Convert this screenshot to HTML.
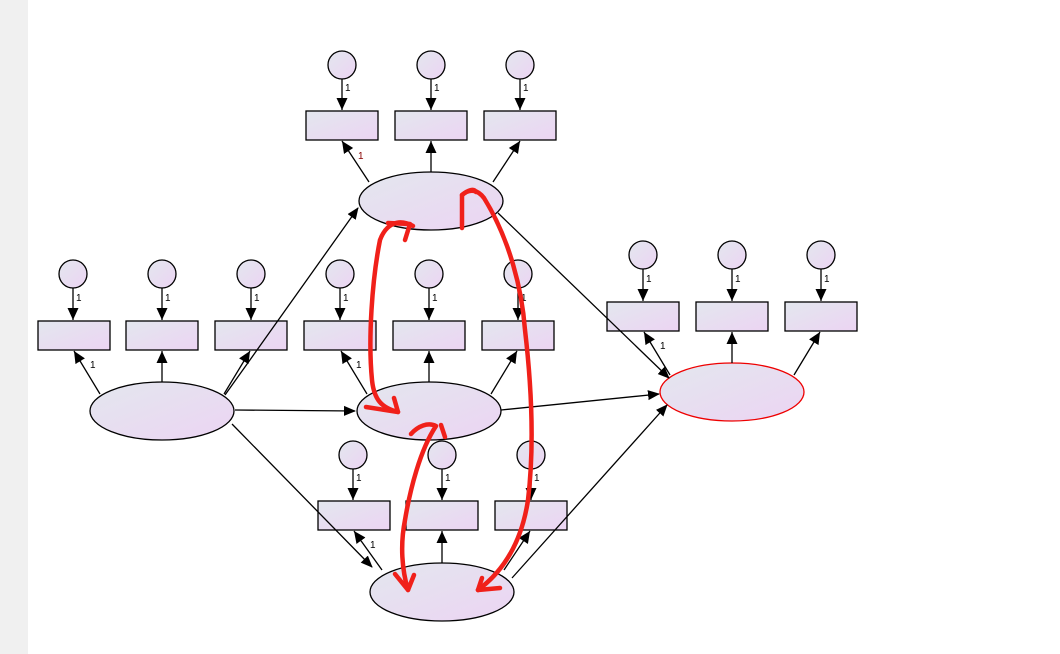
<!DOCTYPE html>
<html><head><style>body{margin:0;background:#fff}svg{display:block}</style></head><body>
<svg width="1060" height="654" viewBox="0 0 1060 654" xmlns="http://www.w3.org/2000/svg" font-family="Liberation Sans, sans-serif">
<defs>
<linearGradient id="g" x1="0" y1="0" x2="1" y2="1"><stop offset="0" stop-color="#e3e7ee"/><stop offset="1" stop-color="#ecd4f3"/></linearGradient>
<marker id="a" markerWidth="12" markerHeight="12" refX="11" refY="6" orient="auto" markerUnits="userSpaceOnUse"><path d="M0,1 L12,6 L0,11 Z" fill="#000"/></marker>
<marker id="as" markerWidth="12" markerHeight="14" refX="12" refY="7" orient="auto-start-reverse" markerUnits="userSpaceOnUse"><path d="M0,1.5 L12,7 L0,12.5 Z" fill="#000"/></marker>
</defs>
<rect x="0" y="0" width="28" height="654" fill="#f0f0f0"/>
<g stroke="#000" stroke-width="1.3" fill="url(#g)">
<circle cx="342" cy="65" r="14"/><circle cx="431" cy="65" r="14"/><circle cx="520" cy="65" r="14"/>
<rect x="306" y="111" width="72" height="29"/><rect x="395" y="111" width="72" height="29"/><rect x="484" y="111" width="72" height="29"/>
<ellipse cx="431" cy="201" rx="72" ry="29"/>
<circle cx="73" cy="274" r="14"/><circle cx="162" cy="274" r="14"/><circle cx="251" cy="274" r="14"/>
<rect x="38" y="321" width="72" height="29"/><rect x="126" y="321" width="72" height="29"/><rect x="215" y="321" width="72" height="29"/>
<ellipse cx="162" cy="411" rx="72" ry="29"/>
<circle cx="340" cy="274" r="14"/><circle cx="429" cy="274" r="14"/><circle cx="518" cy="274" r="14"/>
<rect x="304" y="321" width="72" height="29"/><rect x="393" y="321" width="72" height="29"/><rect x="482" y="321" width="72" height="29"/>
<ellipse cx="429" cy="411" rx="72" ry="29"/>
<circle cx="353" cy="455" r="14"/><circle cx="442" cy="455" r="14"/><circle cx="531" cy="455" r="14"/>
<rect x="318" y="501" width="72" height="29"/><rect x="406" y="501" width="72" height="29"/><rect x="495" y="501" width="72" height="29"/>
<ellipse cx="442" cy="592" rx="72" ry="29"/>
<circle cx="643" cy="255" r="14"/><circle cx="732" cy="255" r="14"/><circle cx="821" cy="255" r="14"/>
<rect x="607" y="302" width="72" height="29"/><rect x="696" y="302" width="72" height="29"/><rect x="785" y="302" width="72" height="29"/>
<ellipse cx="732" cy="392" rx="72" ry="29" stroke="#e00"/>
</g>
<g stroke="#000" stroke-width="1.3" fill="none">
<line x1="225" y1="395" x2="358" y2="208" marker-end="url(#a)"/>
<line x1="235" y1="410" x2="355" y2="411" marker-end="url(#a)"/>
<line x1="232" y1="424" x2="372" y2="567" marker-end="url(#a)"/>
<line x1="498" y1="213" x2="669" y2="378" marker-end="url(#a)"/>
<line x1="501" y1="410" x2="659" y2="394" marker-end="url(#a)"/>
<line x1="512" y1="578" x2="667" y2="405" marker-end="url(#a)"/>
<line x1="342" y1="79" x2="342" y2="110" marker-end="url(#as)"/><line x1="431" y1="79" x2="431" y2="110" marker-end="url(#as)"/><line x1="520" y1="79" x2="520" y2="110" marker-end="url(#as)"/>
<line x1="73" y1="288" x2="73" y2="320" marker-end="url(#as)"/><line x1="162" y1="288" x2="162" y2="320" marker-end="url(#as)"/><line x1="251" y1="288" x2="251" y2="320" marker-end="url(#as)"/>
<line x1="340" y1="288" x2="340" y2="320" marker-end="url(#as)"/><line x1="429" y1="288" x2="429" y2="320" marker-end="url(#as)"/><line x1="518" y1="288" x2="518" y2="320" marker-end="url(#as)"/>
<line x1="353" y1="469" x2="353" y2="500" marker-end="url(#as)"/><line x1="442" y1="469" x2="442" y2="500" marker-end="url(#as)"/><line x1="531" y1="469" x2="531" y2="500" marker-end="url(#as)"/>
<line x1="643" y1="269" x2="643" y2="301" marker-end="url(#as)"/><line x1="732" y1="269" x2="732" y2="301" marker-end="url(#as)"/><line x1="821" y1="269" x2="821" y2="301" marker-end="url(#as)"/>
<line x1="369" y1="182" x2="342" y2="141" marker-end="url(#as)"/><line x1="431" y1="172" x2="431" y2="141" marker-end="url(#as)"/><line x1="493" y1="182" x2="520" y2="141" marker-end="url(#as)"/>
<line x1="100" y1="394" x2="74" y2="351" marker-end="url(#as)"/><line x1="162" y1="382" x2="162" y2="351" marker-end="url(#as)"/><line x1="224" y1="394" x2="250" y2="351" marker-end="url(#as)"/>
<line x1="367" y1="394" x2="341" y2="351" marker-end="url(#as)"/><line x1="429" y1="382" x2="429" y2="351" marker-end="url(#as)"/><line x1="491" y1="394" x2="517" y2="351" marker-end="url(#as)"/>
<line x1="382" y1="570" x2="354" y2="531" marker-end="url(#as)"/><line x1="442" y1="563" x2="442" y2="531" marker-end="url(#as)"/><line x1="504" y1="570" x2="530" y2="531" marker-end="url(#as)"/>
<line x1="670" y1="375" x2="644" y2="332" marker-end="url(#as)"/><line x1="732" y1="363" x2="732" y2="332" marker-end="url(#as)"/><line x1="794" y1="375" x2="820" y2="332" marker-end="url(#as)"/>
</g>
<g font-size="10" fill="#000">
<text x="345" y="91">1</text><text x="434" y="91">1</text><text x="523" y="91">1</text>
<text x="358" y="159" fill="#800">1</text>
<text x="76" y="301">1</text><text x="165" y="301">1</text><text x="254" y="301">1</text>
<text x="343" y="301">1</text><text x="432" y="301">1</text><text x="521" y="301">1</text>
<text x="356" y="481">1</text><text x="445" y="481">1</text><text x="534" y="481">1</text>
<text x="646" y="282">1</text><text x="735" y="282">1</text><text x="824" y="282">1</text>
<text x="90" y="368">1</text><text x="356" y="368">1</text><text x="370" y="548">1</text><text x="660" y="349">1</text>
</g>
<g stroke="#f0201a" stroke-width="4.5" fill="none" stroke-linecap="round" stroke-linejoin="round">
<path d="M413,226 C398,218 386,224 380,240 C372,280 368,340 372,380 C374,400 382,408 398,412"/>
<path d="M388,223 L410,224 L405,240"/>
<path d="M366,407 L398,412 L394,398"/>
<path d="M462,228 L462,195 C470,188 478,190 484,198 C510,240 522,290 525,330 C532,390 534,450 528,500 C522,540 505,570 478,590"/>
<path d="M462,195 C468,190 474,188 476,192"/>
<path d="M478,590 L500,588"/>
<path d="M478,590 L482,578"/>
<path d="M411,434 C418,426 428,422 436,426 C420,450 410,490 405,520 C400,545 402,570 408,590"/>
<path d="M441,425 L445,437"/>
<path d="M395,574 L408,590 L414,575"/>
</g>
</svg>
</body></html>
